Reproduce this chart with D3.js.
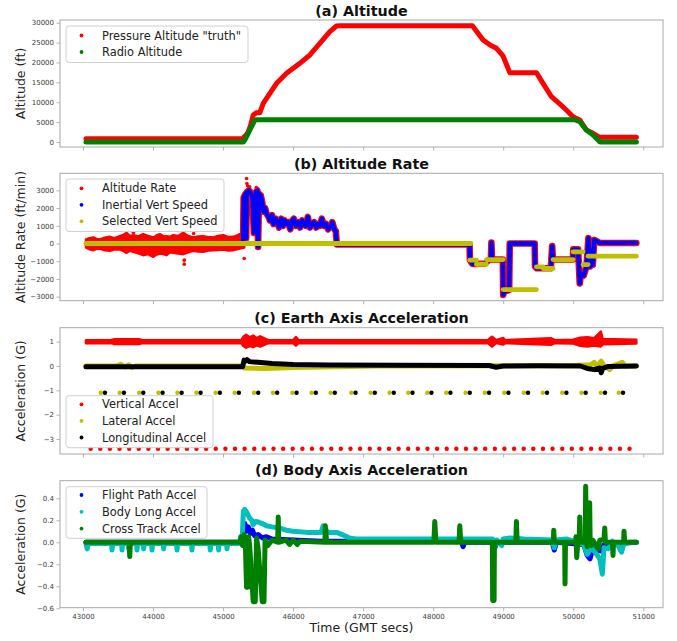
<!DOCTYPE html>
<html><head><meta charset="utf-8">
<script src="https://cdn.jsdelivr.net/npm/d3@7"></script>
<style>
html,body{margin:0;padding:0;background:#fff;}
svg{display:block;font-family:"DejaVu Sans",sans-serif;}
</style></head><body>
<svg id="chart" width="677" height="641"></svg>
<script>
// ---------- shared time axis ----------
const timeTicks = [43000, 44000, 45000, 46000, 47000, 48000, 49000, 50000, 51000];

// ---------- (a) Altitude ----------
const pressureAlt = [[43043,830],[45290,830],[45302,1330],[45336,1900],[45360,2590],[45395,4275],[45430,6790],[45479,7370],[45526,7370],[45574,9730],[45669,12250],[45764,14760],[45907,17270],[46097,19790],[46240,21880],[46382,24810],[46525,27740],[46620,29170],[46668,29250],[48561,29250],[48713,25650],[48813,24390],[48904,23560],[48998,21630],[49094,17430],[49474,17430],[49569,14760],[49689,11390],[49807,9560],[49902,8050],[49997,6360],[50093,5530],[50188,3020],[50283,2190],[50378,1180],[50902,1180]];
const radioAlt = [[43043,0],[45290,0],[45312,500],[45359,2180],[45407,3850],[45455,5530],[45480,5600],[50021,5600],[50093,5100],[50188,3020],[50283,1760],[50378,80],[50400,0],[50902,0]];
const altTicks = [0, 5000, 10000, 15000, 20000, 25000, 30000];

// ---------- (b) Altitude Rate ----------
// ground noise of the altitude rate: [time, upper, lower]
const altRateNoise = [[43043,226,-226],[43095,300,-330],[43147,338,-376],[43195,260,-300],[43243,226,-282],[43310,330,-380],[43385,376,-414],[43450,300,-330],[43528,414,-338],[43575,480,-420],[43623,602,-526],[43670,420,-400],[43718,470,-470],[43790,400,-560],[43861,526,-658],[43930,420,-600],[44004,338,-752],[44050,450,-620],[44099,526,-564],[44150,400,-600],[44194,414,-658],[44240,380,-500],[44289,470,-526],[44360,420,-560],[44432,602,-602],[44500,420,-500],[44575,338,-414],[44645,400,-450],[44717,414,-470],[44790,360,-400],[44860,338,-376],[44930,420,-360],[45003,470,-338],[45075,360,-400],[45145,376,-376],[45195,440,-320],[45240,526,-282],[45302,282,-226]];
const altRateOutliers = [[44446,-1165],[44446,-940],[45302,-846],[45336,3666],[45340,3384],[45350,3250],[45380,3200],[45475,3150],[43720,620],[44580,560]];
const vertSpeedTrack = [[43043,0],[45285,0],[45295,2600],[45320,2800],[45330,300],[45340,2900],[45370,3000],[45390,2900],[45420,2600],[45440,600],[45470,2900],[45490,3000],[45500,-200],[45515,2800],[45540,2700],[45560,2300],[45580,1800],[45600,2000],[45620,1700],[45650,1500],[45670,1300],[45700,1600],[45720,1100],[45750,1400],[45780,1200],[45800,900],[45830,1400],[45860,1000],[45880,1300],[45900,1100],[45930,1200],[45960,800],[45990,1300],[46010,1400],[46040,1000],[46070,1200],[46100,900],[46130,1300],[46150,1100],[46180,1000],[46210,1500],[46240,900],[46270,1100],[46300,1200],[46330,900],[46350,1100],[46380,1000],[46410,1400],[46440,1000],[46470,1100],[46500,800],[46540,1000],[46560,1200],[46590,800],[46610,700],[46625,-60],[48520,-60],[48525,-943],[48560,-1150],[48740,-1140],[48790,-943],[48825,-900],[48832,50],[48840,-900],[48995,-900],[49000,-2900],[49020,-2700],[49085,-2630],[49094,0],[49450,0],[49455,-1300],[49480,-1400],[49680,-1400],[49700,-150],[49710,-900],[49995,-900],[50000,-330],[50070,-330],[50093,-2250],[50110,-1700],[50150,-1800],[50190,-1300],[50217,300],[50240,-1300],[50260,-400],[50280,-1200],[50300,200],[50378,30],[50901,30]];
// selected vertical speed holds: [start, end, value]
const selectedVS = [[43043,48540,0],[48523,48618,-943],[48618,48761,-1170],[48761,48999,-905],[48999,49474,-2600],[49474,49570,-1316],[49570,49712,-1410],[49712,49998,-905],[49998,50140,-470],[50140,50212,-1190],[50212,50901,-716]];
const rateTicks = [-3000, -2000, -1000, 0, 1000, 2000, 3000];

// ---------- (c) Earth Axis Acceleration ----------
// vertical accel envelope: [time, upper, lower]
const vertAccelBand = [[43043,1.06,0.94],[43400,1.06,0.94],[43450,1.1,0.9],[43800,1.1,0.9],[43850,1.06,0.94],[45260,1.06,0.94],[45290,1.2,0.82],[45330,1.28,0.75],[45380,1.18,0.82],[45430,1.25,0.78],[45480,1.15,0.85],[45530,1.22,0.8],[45620,1.09,0.91],[45650,1.06,0.94],[46000,1.06,0.94],[46040,1.19,0.84],[46080,1.06,0.94],[48780,1.06,0.94],[48840,1.2,0.8],[48900,1.06,0.94],[49000,1.15,0.88],[49030,1.06,0.94],[49680,1.14,0.87],[49740,1.06,0.94],[50000,1.08,0.92],[50100,1.16,0.83],[50200,1.18,0.8],[50300,1.14,0.84],[50395,1.41,0.8],[50420,1.11,0.89],[50901,1.08,0.92]];
const lateralAccel = [[43043,0],[43480,0],[43540,0.07],[43600,-0.04],[43650,0.05],[43700,-0.06],[43750,0],[45280,0],[45300,-0.08],[45600,-0.1],[46000,-0.06],[46600,-0.03],[47200,0],[49900,0.01],[50250,0.05],[50300,0.15],[50340,-0.02],[50400,0.2],[50440,0],[50520,-0.15],[50560,0],[50700,0.15],[50740,0],[50901,0]];
const longAccel = [[43043,-0.03],[45280,-0.03],[45300,0.24],[45320,0.2],[45340,0.26],[45380,0.18],[45500,0.15],[45700,0.1],[46000,0.06],[46500,0.04],[47500,0.03],[48800,0.02],[48900,-0.05],[49000,0],[49500,0.01],[50100,0],[50200,-0.1],[50300,-0.15],[50380,-0.08],[50400,-0.28],[50420,-0.1],[50500,-0.02],[50901,0]];
// dropout samples
const vertAccelDrops = [43110,43247,43385,43522,43660,43797,43934,44072,44209,44347,44484,44621,44759,44896,45034,45171,45308,45446,45583,45721,45858,45995,46133,46270,46408,46545,46682,46820,46957,47095,47232,47369,47507,47644,47782,47919,48056,48194,48331,48469,48606,48743,48881,49018,49156,49293,49430,49568,49705,49843,49980,50117,50255,50392,50530,50667,50804];
const vertAccelDropValue = -3.4;
const longAccelDrops = [43314,43585,43861,44137,44409,44680,44955,45226,45502,45773,46050,46325,46596,46892,47167,47438,47705,47976,48247,48523,48798,49075,49355,49626,49903,50178,50454,50711];
const latAccelDrops = [43254,43525,43801,44077,44349,44620,44895,45166,45442,45713,45990,46265,46536,46832,47107,47378,47645,47916,48187,48463,48738,49015,49295,49566,49843,50118,50394,50651];
const sideDropValue = -1.1;
const earthTicks = [-3, -2, -1, 0, 1];

// ---------- (d) Body Axis Acceleration ----------
const flightPathAccel = [[43043,0],[45280,0],[45300,0.12],[45312,0.17],[45330,0.1],[45360,0.14],[45390,0.08],[45420,0.11],[45450,0.06],[45500,0.07],[45560,0.04],[45620,0.05],[45700,0.03],[46000,0.02],[46400,0.01],[48400,0.01],[48428,-0.04],[48450,0],[48850,0],[48880,-0.05],[48910,0],[49700,0],[49730,-0.07],[49760,0],[50150,-0.02],[50200,-0.12],[50240,-0.15],[50280,-0.06],[50400,-0.08],[50440,-0.02],[50901,0]];
const bodyLongAccel = [[43043,-0.01],[43061,-0.06],[43075,-0.01],[43409,-0.01],[43415,-0.07],[43425,-0.01],[43552,-0.01],[43558,-0.07],[43566,-0.01],[43646,-0.01],[43652,-0.06],[43660,-0.01],[43766,-0.01],[43772,-0.07],[43780,-0.01],[43860,-0.01],[43866,-0.06],[43874,-0.01],[43980,-0.01],[43986,-0.07],[43994,-0.01],[44146,-0.01],[44152,-0.06],[44160,-0.01],[44337,-0.01],[44343,-0.07],[44351,-0.01],[44550,-0.01],[44556,-0.07],[44564,-0.01],[44812,-0.01],[44818,-0.07],[44826,-0.01],[44931,-0.01],[44937,-0.07],[44945,-0.01],[45050,-0.01],[45056,-0.06],[45064,-0.01],[45240,-0.01],[45250,0.05],[45270,-0.02],[45290,0.28],[45310,0.3],[45340,0.27],[45380,0.22],[45410,0.2],[45430,0.16],[45470,0.19],[45520,0.18],[45560,0.17],[45620,0.15],[45700,0.14],[45800,0.13],[45900,0.11],[46000,0.1],[46200,0.09],[46400,0.09],[46430,0.15],[46460,0.12],[46500,0.09],[46620,0.09],[46700,0.07],[46800,0.04],[46900,0.03],[48850,0.03],[48880,-0.04],[48910,0.02],[48980,-0.03],[49000,0.03],[49100,0.04],[49300,0.03],[49700,0.02],[49730,-0.05],[49760,0.02],[49900,0.03],[50150,-0.02],[50200,-0.11],[50260,-0.05],[50300,-0.08],[50380,-0.15],[50416,-0.29],[50440,-0.05],[50500,-0.06],[50560,0.01],[50640,-0.03],[50690,-0.09],[50720,-0.02],[50800,0],[50901,0]];
const crossTrackAccel = [[43043,0],[43660,0],[43668,-0.13],[43676,0],[45240,0],[45260,0.05],[45280,-0.03],[45300,0.07],[45320,-0.05],[45336,-0.41],[45350,-0.41],[45365,0.05],[45380,-0.03],[45431,-0.54],[45460,-0.54],[45479,0.04],[45500,-0.05],[45560,-0.54],[45585,-0.54],[45600,0.02],[45640,-0.03],[45700,0.02],[45780,0],[45788,0.23],[45796,0],[45900,0.02],[45950,-0.02],[46000,0.02],[46060,-0.02],[46100,0.01],[46454,0],[46460,0.15],[46480,0],[48010,0],[48023,0.19],[48040,0],[48370,0],[48380,0.15],[48395,0],[48845,0],[48850,-0.53],[48870,-0.53],[48875,0],[49180,0],[49189,0.19],[49200,0],[49715,0],[49722,0.11],[49730,0],[49878,0],[49883,-0.38],[49890,0],[50030,0],[50040,0.05],[50050,-0.14],[50065,0],[50085,0],[50093,0.23],[50100,0],[50170,0],[50178,0.51],[50186,0],[50200,-0.04],[50228,0],[50235,0.36],[50242,0],[50259,-0.03],[50280,0.02],[50300,0],[50354,-0.06],[50380,0.02],[50440,0.03],[50450,0.13],[50460,0],[50560,0],[50568,-0.12],[50576,0],[50720,0],[50725,0.1],[50735,0],[50901,0]];
const bodyTicks = [-0.6, -0.4, -0.2, 0.0, 0.2, 0.4];

// ---------- colours ----------
const C = {red:'#ff0000', green:'#008000', blue:'#0000ff', olive:'#bfbf00', cyan:'#00bfbf', black:'#000000'};

// ---------- drawing ----------
const svg = d3.select('#chart');
const x = d3.scaleLinear().domain([42672, 51282]).range([60, 663]);
const LEFT = 60, RIGHT = 663;
const MARK = 5; // dense marker trace width

function panel(cfg) {
  const y = d3.scaleLinear().domain(cfg.domain).range([cfg.bottom, cfg.top]);
  const g = svg.append('g');
  g.append('rect').attr('x', LEFT).attr('y', cfg.top).attr('width', RIGHT - LEFT)
    .attr('height', cfg.bottom - cfg.top).attr('fill', '#fff');
  const plot = g.append('g');
  // y axis
  const ya = g.append('g').attr('transform', `translate(${LEFT},0)`)
    .call(d3.axisLeft(y).tickValues(cfg.ticks).tickFormat(cfg.fmt).tickSize(3.5).tickPadding(2.5));
  // x axis
  const xa = g.append('g').attr('transform', `translate(0,${cfg.bottom})`)
    .call(d3.axisBottom(x).tickValues(timeTicks).tickFormat(cfg.showX ? d3.format('d') : '').tickSize(3.5).tickPadding(3));
  [ya, xa].forEach(a => {
    a.select('.domain').remove();
    a.selectAll('.tick line').attr('stroke', '#a0a0a0').attr('stroke-width', 0.8);
    a.selectAll('.tick text').attr('fill', '#3a3a3a').style('font-size', '7px').style('font-family', '"DejaVu Sans"');
  });
  g.append('rect').attr('x', LEFT).attr('y', cfg.top).attr('width', RIGHT - LEFT)
    .attr('height', cfg.bottom - cfg.top).attr('fill', 'none').attr('stroke', '#a8a8a8').attr('stroke-width', 1);
  g.append('text').attr('x', (LEFT + RIGHT) / 2).attr('y', cfg.titleY).attr('text-anchor', 'middle')
    .style('font-size', '14.3px').style('font-weight', 'bold').attr('fill', '#111').text(cfg.title);
  const cy = (cfg.top + cfg.bottom) / 2;
  g.append('text').attr('transform', `translate(24.5,${cy}) rotate(-90)`).attr('text-anchor', 'middle')
    .style('font-size', '12.5px').attr('fill', '#222').text(cfg.ylabel);
  return {g, plot, y};
}

function trace(p, data, color, width) {
  const line = d3.line().x(d => x(d[0])).y(d => p.y(d[1]));
  p.plot.append('path').attr('d', line(data)).attr('fill', 'none').attr('stroke', color)
    .attr('stroke-width', width || MARK).attr('stroke-linejoin', 'round').attr('stroke-linecap', 'round');
}
function band(p, data, color) {
  const area = d3.area().x(d => x(d[0])).y0(d => p.y(d[2])).y1(d => p.y(d[1]));
  p.plot.append('path').attr('d', area(data)).attr('fill', color).attr('stroke', color)
    .attr('stroke-width', 2.5).attr('stroke-linejoin', 'round');
}
function dots(p, data, color, r) {
  p.plot.selectAll(null).data(data).enter().append('circle')
    .attr('cx', d => x(d[0])).attr('cy', d => p.y(d[1])).attr('r', r || 2.2).attr('fill', color);
}
function legend(p, box, items) {
  const lg = p.g.append('g');
  lg.append('rect').attr('x', box.x).attr('y', box.y).attr('width', box.w).attr('height', box.h)
    .attr('rx', 3).attr('fill', '#fff').attr('fill-opacity', 0.8).attr('stroke', '#d0d0d0').attr('stroke-width', 1);
  items.forEach((it, i) => {
    const cy = box.y + box.row0 + i * box.step;
    lg.append('circle').attr('cx', box.x + 15.5).attr('cy', cy).attr('r', 1.9).attr('fill', it[1]);
    lg.append('text').attr('x', box.x + 36).attr('y', cy + 4.1).style('font-size', '11.4px').attr('fill', '#222').text(it[0]);
  });
}

// (a)
const pa = panel({top: 20, bottom: 147, domain: [-1257, 30679], ticks: altTicks, fmt: d3.format('d'),
  title: '(a) Altitude', titleY: 16, ylabel: 'Altitude (ft)'});
trace(pa, pressureAlt, C.red);
trace(pa, radioAlt, C.green);
legend(pa, {x: 66, y: 26, w: 182, h: 36.5, row0: 9.5, step: 16.5},
  [['Pressure Altitude "truth"', C.red], ['Radio Altitude', C.green]]);

// (b)
const pb = panel({top: 173.3, bottom: 300.7, domain: [-3226, 3959], ticks: rateTicks, fmt: d3.format('d'),
  title: '(b) Altitude Rate', titleY: 169, ylabel: 'Altitude Rate (ft/min)'});
band(pb, altRateNoise, C.red);
trace(pb, vertSpeedTrack.filter(d => d[0] >= 45280), C.red, 6.6);
dots(pb, altRateOutliers, C.red, 1.8);
trace(pb, vertSpeedTrack, C.blue, 4.3);
selectedVS.forEach(s => trace(pb, [[s[0], s[2]], [s[1], s[2]]], C.olive, 4.8));
legend(pb, {x: 66, y: 179, w: 158, h: 52.5, row0: 9.3, step: 16.5},
  [['Altitude Rate', C.red], ['Inertial Vert Speed', C.blue], ['Selected Vert Speed', C.olive]]);

// (c)
const pc = panel({top: 327.7, bottom: 454, domain: [-3.617, 1.574], ticks: earthTicks, fmt: d3.format('d'),
  title: '(c) Earth Axis Acceleration', titleY: 322.7, ylabel: 'Acceleration (G)'});
band(pc, vertAccelBand, C.red);
dots(pc, vertAccelDrops.map(t => [t, vertAccelDropValue]), C.red, 2.2);
trace(pc, lateralAccel, C.olive);
dots(pc, latAccelDrops.map(t => [t, sideDropValue]), C.olive, 2.2);
trace(pc, longAccel, C.black);
dots(pc, longAccelDrops.map(t => [t, sideDropValue]), C.black, 2.2);
legend(pc, {x: 66, y: 395.7, w: 147, h: 52, row0: 8.6, step: 16.6},
  [['Vertical Accel', C.red], ['Lateral Accel', C.olive], ['Longitudinal Accel', C.black]]);

// (d)
const pd = panel({top: 480.7, bottom: 607.7, domain: [-0.595, 0.56], ticks: bodyTicks, fmt: d3.format('.1f'),
  title: '(d) Body Axis Acceleration', titleY: 475, ylabel: 'Acceleration (G)', showX: true});
trace(pd, flightPathAccel, C.blue);
trace(pd, bodyLongAccel, C.cyan);
trace(pd, crossTrackAccel, C.green);
legend(pd, {x: 66, y: 486.7, w: 141, h: 51.6, row0: 8.3, step: 16.8},
  [['Flight Path Accel', C.blue], ['Body Long Accel', C.cyan], ['Cross Track Accel', C.green]]);

svg.append('text').attr('x', (LEFT + RIGHT) / 2).attr('y', 632).attr('text-anchor', 'middle')
  .style('font-size', '12.5px').attr('fill', '#222').text('Time (GMT secs)');
</script></body></html>
